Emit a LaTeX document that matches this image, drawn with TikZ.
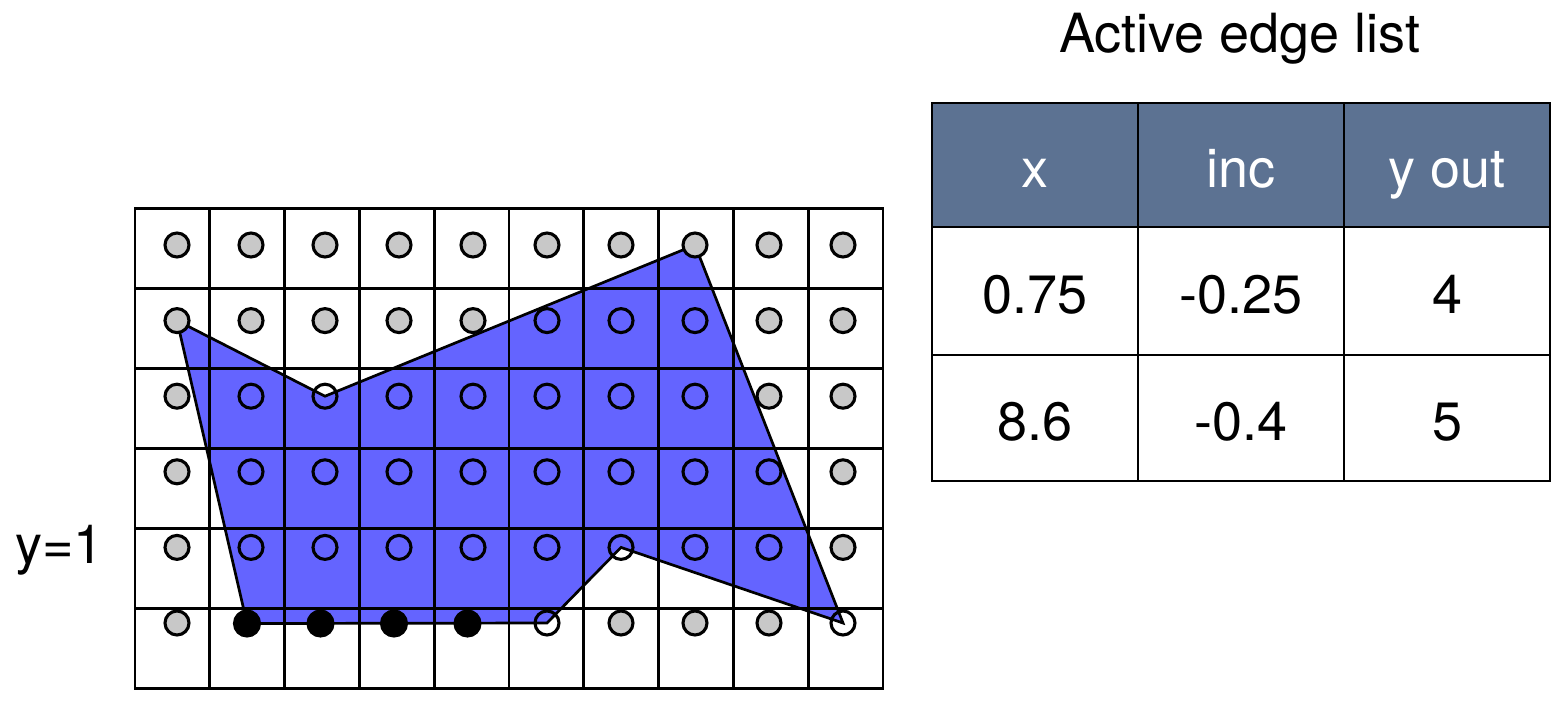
\documentclass[tikz,border=0pt]{standalone}
\usepackage{fontspec}
\setmainfont{TeX Gyre Heros}
\definecolor{polyblue}{RGB}{100,100,255}
\definecolor{pixgray}{RGB}{200,200,200}
\definecolor{headblue}{RGB}{92,114,146}
\begin{document}
\begin{tikzpicture}[x=0.5pt,y=-0.5pt,
  gridline/.style={line width=1.4pt,black},
  polyfill/.style={fill=polyblue},
  polyedge/.style={line width=1.35pt,black,line join=miter},
  pix/.style={circle,draw=black,line width=1.55pt,minimum size=12pt,inner sep=0pt},
  outpix/.style={pix,fill=pixgray},
  inpix/.style={pix},
  onpix/.style={pix,fill=black,minimum size=12.5pt},
  cell/.style={rectangle,draw=black,line width=1.3pt,font=\fontsize{27}{32}\selectfont,
    text height=22pt,text depth=0pt,inner sep=0pt,minimum width=103pt},
  headcell/.style={cell,fill=headblue,text=white,minimum height=62pt},
  rowcellA/.style={cell,minimum height=64pt},
  rowcellB/.style={cell,minimum height=63pt},
  label/.style={font=\fontsize{27}{32}\selectfont,inner sep=0pt}]
\useasboundingbox (0,0) rectangle (1563,708);

% pixel sample positions
\foreach \i in {1,...,10}{
  \foreach \j in {1,...,5}{
    \coordinate (p-\i-\j) at ({177+74*(\i-1)},{245+75.6*(\j-1)});
  }
}
\foreach \i in {1,6,7,8,9,10}{
  \coordinate (p-\i-6) at ({177+74*(\i-1)},623);
}
\foreach \i in {2,...,5}{
  \coordinate (p-\i-6) at ({173.5+73.5*(\i-1)},623.5);
}

% polygon fill
\fill[polyfill] (p-1-2) -- (p-3-3) -- (p-8-1) -- (p-10-6) -- (p-7-5) -- (p-6-6) -- (p-2-6) -- cycle;

% grid
\foreach \k in {0,...,10}{
  \draw[gridline] ({135+74.8*\k},208.5) -- ({135+74.8*\k},688.5);
}
\foreach \k in {0,...,6}{
  \draw[gridline] (134.3,{208.5+80*\k}) -- (883.7,{208.5+80*\k});
}

% polygon outline
\draw[polyedge] (p-1-2) -- (p-3-3) -- (p-8-1) -- (p-10-6) -- (p-7-5) -- (p-6-6) -- (p-2-6) -- cycle;

% sample circles
\foreach \i in {1,...,10}{ \node[outpix] (c-\i-1) at (p-\i-1) {}; }
\foreach \i in {1,2,3,4,5,9,10}{ \node[outpix] (c-\i-2) at (p-\i-2) {}; }
\foreach \i in {6,7,8}{ \node[inpix] (c-\i-2) at (p-\i-2) {}; }
\foreach \i in {1,9,10}{ \node[outpix] (c-\i-3) at (p-\i-3) {}; }
\foreach \i in {2,...,8}{ \node[inpix] (c-\i-3) at (p-\i-3) {}; }
\foreach \j in {4,5}{
  \foreach \i in {1,10}{ \node[outpix] (c-\i-\j) at (p-\i-\j) {}; }
  \foreach \i in {2,...,9}{ \node[inpix] (c-\i-\j) at (p-\i-\j) {}; }
}
\foreach \i in {1,7,8,9}{ \node[outpix] (c-\i-6) at (p-\i-6) {}; }
\foreach \i in {2,...,5}{ \node[onpix] (c-\i-6) at (p-\i-6) {}; }
\foreach \i in {6,10}{ \node[inpix] (c-\i-6) at (p-\i-6) {}; }

% label
\node[label,anchor=base west] (ylab) at (15,563) {y=1};

% table
\node[label,anchor=base] (title) at (1240,52) {Active edge list};
\node[headcell] (h1) at (1035,165) {x};
\node[headcell] (h2) at (1241,165) {inc};
\node[headcell] (h3) at (1447,165) {y out};
\node[rowcellA] (a1) at (1035,291) {0.75};
\node[rowcellA] (a2) at (1241,291) {-0.25};
\node[rowcellA] (a3) at (1447,291) {4};
\node[rowcellB] (b1) at (1035,418) {8.6};
\node[rowcellB] (b2) at (1241,418) {-0.4};
\node[rowcellB] (b3) at (1447,418) {5};
\end{tikzpicture}
\end{document}
